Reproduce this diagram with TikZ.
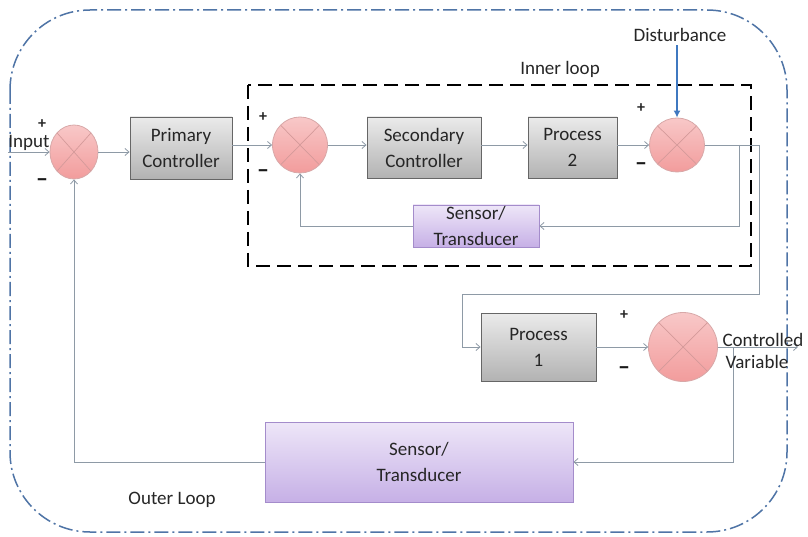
\documentclass[tikz,border=0pt]{standalone}
\usepackage{fontspec}
\setmainfont{Carlito}
\usetikzlibrary{arrows.meta,shapes.geometric,calc}

\definecolor{wire}{HTML}{8E9AA6}
\definecolor{framecol}{HTML}{4F74A6}
\definecolor{distcol}{HTML}{3F78C0}
\definecolor{lavtop}{HTML}{EEE6F8}
\definecolor{lavbot}{HTML}{C6B0E6}
\definecolor{lavline}{HTML}{A48CCB}
\definecolor{pinktop}{HTML}{F8C8C8}
\definecolor{pinkbot}{HTML}{F29C9C}
\definecolor{pinkline}{HTML}{D8A8A8}
\definecolor{crosscol}{HTML}{D49A9A}

\tikzset{
  txt/.style={font=\fontsize{19}{26}\selectfont, align=center, text=black!85},
  graybox/.style={txt, draw=black!60, line width=0.9pt, top color=black!8, bottom color=black!30, inner sep=0pt},
  violetbox/.style={txt, draw=lavline, line width=0.9pt, top color=lavtop, bottom color=lavbot, inner sep=0pt},
  summer/.style={ellipse, draw=pinkline, line width=0.8pt, top color=pinktop, bottom color=pinkbot, inner sep=0pt,
    path picture={
      \draw[crosscol, line width=0.7pt] (path picture bounding box.north west) -- (path picture bounding box.south east);
      \draw[crosscol, line width=0.7pt] (path picture bounding box.north east) -- (path picture bounding box.south west);
    }},
  conn/.style={draw=wire, line width=0.8pt, -{Straight Barb[length=4pt,width=7pt]}},
  wireline/.style={draw=wire, line width=0.8pt},
  plussign/.style={font=\fontsize{16}{16}\selectfont\bfseries, inner sep=0pt, text=black!85},
  minussign/.style={font=\fontsize{24}{24}\selectfont\bfseries, inner sep=0pt, text=black!90},
}

\begin{document}
\begin{tikzpicture}[x=1pt,y=-1pt]
\useasboundingbox (0,0) rectangle (808,537);
\fill[white] (0,0) rectangle (808,537);

% outer loop boundary
\draw[framecol, line width=1.5pt, dash pattern=on 14pt off 4pt on 2pt off 4pt, rounded corners=80pt]
  (10,10) rectangle (787,532);
% inner loop boundary
\draw[black, line width=2.8pt, dash pattern=on 14pt off 7pt] (248,85) rectangle (751,266);

% blocks
\node[graybox, minimum width=102pt, minimum height=62pt] (prim) at (181,148) {Primary\\Controller};
\node[graybox, minimum width=114pt, minimum height=61pt] (sec) at (424,147.5) {Secondary\\Controller};
\node[graybox, minimum width=89pt, minimum height=61pt] (p2) at (572.5,147.5) {Process\\2};
\node[violetbox, minimum width=126pt, minimum height=42pt] (isens) at (476,226) {Sensor/\\Transducer};
\node[graybox, minimum width=115pt, minimum height=68pt] (p1) at (538.5,347) {Process\\1};
\node[violetbox, minimum width=308pt, minimum height=80pt] (osens) at (419,462) {Sensor/\\Transducer};

% summing junctions
\node[summer, minimum width=48pt, minimum height=54pt] (s1) at (74,152) {};
\node[summer, minimum width=55pt, minimum height=56pt] (s2) at (300,145) {};
\node[summer, minimum width=55pt, minimum height=54pt] (s3) at (677,145) {};
\node[summer, minimum width=69pt, minimum height=69pt] (s4) at (683,347) {};

% free ends and routing points
\coordinate (in) at (8,152);
\coordinate (out) at (798,347);
\coordinate (t1) at (759,145);
\coordinate (t2) at (739,145);
\coordinate (t3) at (733,347);

% forward path
\draw[conn] (in) -- (s1.west);
\draw[conn] (s1.east) -- (s1.east -| prim.west);
\draw[conn] (prim.east |- s2.west) -- (s2.west);
\draw[conn] (s2.east) -- (s2.east -| sec.west);
\draw[conn] (sec.east |- s2.east) -- (s2.east -| p2.west);
\draw[conn] (p2.east |- s3.west) -- (s3.west);
\draw[wireline] (s3.east) -- (t1);
\draw[conn] (t1) -- (759,294) -- (462,294) -- (462,347) -- (p1.west);
\draw[conn] (p1.east) -- (s4.west);
\draw[conn] (s4.east) -- (out);

% inner feedback
\draw[conn] (t2) -- (t2 |- isens.east) -- (isens.east);
\draw[conn] (isens.west) -- (isens.west -| s2.south) -- (s2.south);

% outer feedback
\draw[conn] (t3) -- (t3 |- osens.east) -- (osens.east);
\draw[conn] (osens.west) -- (osens.west -| s1.south) -- (s1.south);

% disturbance
\node[txt] (dist) at (680,35) {Disturbance};
\draw[distcol, line width=2.6pt, -{Latex[length=7pt,width=7pt]}] (dist.south -| s3.north) -- (s3.north);

% labels
\node[txt] (inlab) at (29,143) {Input};
\node[txt] (ilab) at (560,69) {Inner loop};
\node[txt] (olab) at (172,500) {Outer Loop};
\node[txt] (cv1) at (763,340) {Controlled};
\node[txt] (cv2) at (757,362) {Variable};

% signs
\node[plussign] (s1p) at (42,124) {+};
\node[minussign] (s1m) at (42,183) {–};
\node[plussign] (s2p) at (263,117) {+};
\node[minussign] (s2m) at (263,174) {–};
\node[plussign] (s3p) at (641,108) {+};
\node[minussign] (s3m) at (641,167) {–};
\node[plussign] (s4p) at (624,315) {+};
\node[minussign] (s4m) at (624,371) {–};
\end{tikzpicture}
\end{document}
